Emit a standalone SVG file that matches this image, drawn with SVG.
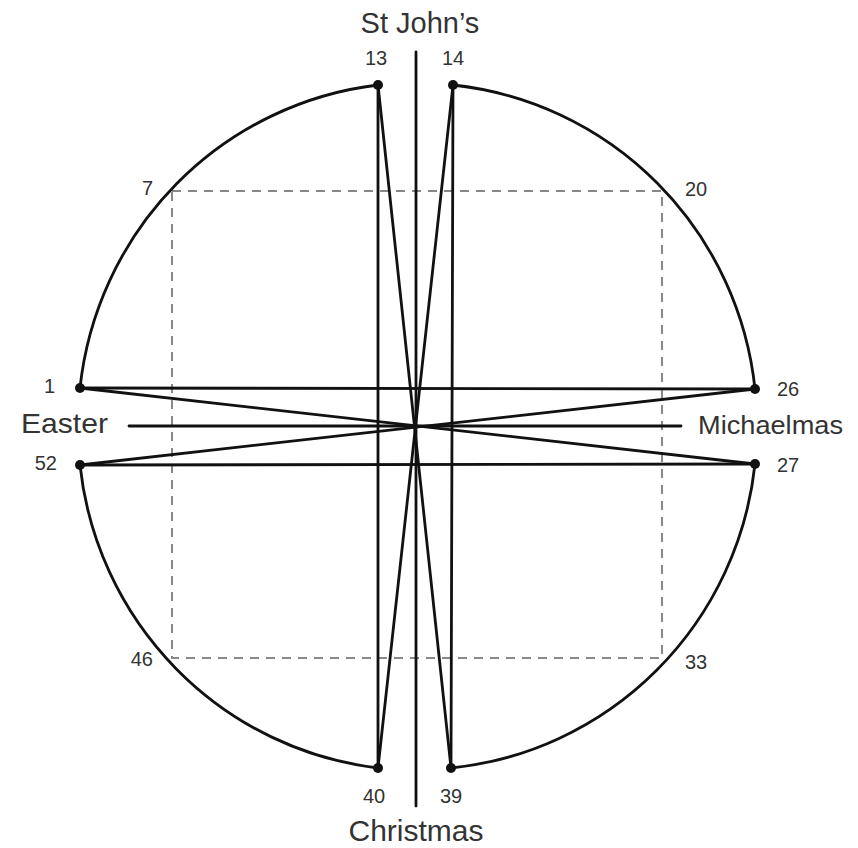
<svg xmlns="http://www.w3.org/2000/svg" width="858" height="848" viewBox="0 0 858 848">
<style>
.ln{stroke:#111;stroke-width:2.8;fill:none;stroke-linecap:round}
.dash{stroke:#888;stroke-width:2;fill:none;stroke-dasharray:9,7}
.dot{fill:#111}
.num{font-family:"Liberation Sans",Arial,sans-serif;font-size:20px;fill:#333}
.big{font-family:"Liberation Sans",Arial,sans-serif;fill:#333}
</style>
<rect width="858" height="848" fill="#fff"/>
<g id="square">
<rect class="dash" x="172" y="191" width="490" height="467"/>
</g>
<g id="connectors">
<path class="ln" d="M378,85 A340,342 0 0 0 80,388"/>
<path class="ln" d="M453,85 A340,342 0 0 1 755,389"/>
<path class="ln" d="M80,465 A340,342 0 0 0 378,768"/>
<path class="ln" d="M755,464 A340,342 0 0 1 451,768"/>
<line class="ln" x1="378" y1="85" x2="378" y2="768"/>
<line class="ln" x1="453" y1="85" x2="451" y2="768"/>
<line class="ln" x1="378" y1="85" x2="451" y2="768"/>
<line class="ln" x1="453" y1="85" x2="378" y2="768"/>
<line class="ln" x1="80" y1="388" x2="755" y2="389"/>
<line class="ln" x1="80" y1="465" x2="755" y2="464"/>
<line class="ln" x1="80" y1="388" x2="755" y2="464"/>
<line class="ln" x1="80" y1="465" x2="755" y2="389"/>
<line class="ln" x1="416" y1="52" x2="416" y2="806"/>
<line class="ln" x1="129" y1="426" x2="681" y2="426"/>
</g>
<g id="dots">
<circle class="dot" cx="378" cy="85" r="5"/>
<circle class="dot" cx="453" cy="85" r="5"/>
<circle class="dot" cx="378" cy="768" r="5"/>
<circle class="dot" cx="451" cy="768" r="5"/>
<circle class="dot" cx="80" cy="388" r="5"/>
<circle class="dot" cx="80" cy="465" r="5"/>
<circle class="dot" cx="755" cy="389" r="5"/>
<circle class="dot" cx="755" cy="464" r="5"/>
</g>
<g id="labels">
<text class="big" x="420" y="33" font-size="29" text-anchor="middle">St John’s</text>
<text class="big" x="416" y="841" font-size="30" text-anchor="middle">Christmas</text>
<text class="big" x="21" y="433" font-size="28" textLength="87" lengthAdjust="spacingAndGlyphs">Easter</text>
<text class="big" x="698" y="434" font-size="25" textLength="145" lengthAdjust="spacingAndGlyphs">Michaelmas</text>
<text class="num" x="365" y="65">13</text>
<text class="num" x="442" y="65">14</text>
<text class="num" x="363" y="803">40</text>
<text class="num" x="440" y="803">39</text>
<text class="num" x="55" y="393" text-anchor="end">1</text>
<text class="num" x="57" y="470" text-anchor="end">52</text>
<text class="num" x="777" y="396">26</text>
<text class="num" x="777" y="472">27</text>
<text class="num" x="153" y="195" text-anchor="end">7</text>
<text class="num" x="685" y="196">20</text>
<text class="num" x="153" y="666" text-anchor="end">46</text>
<text class="num" x="685" y="669">33</text>
</g>
</svg>
